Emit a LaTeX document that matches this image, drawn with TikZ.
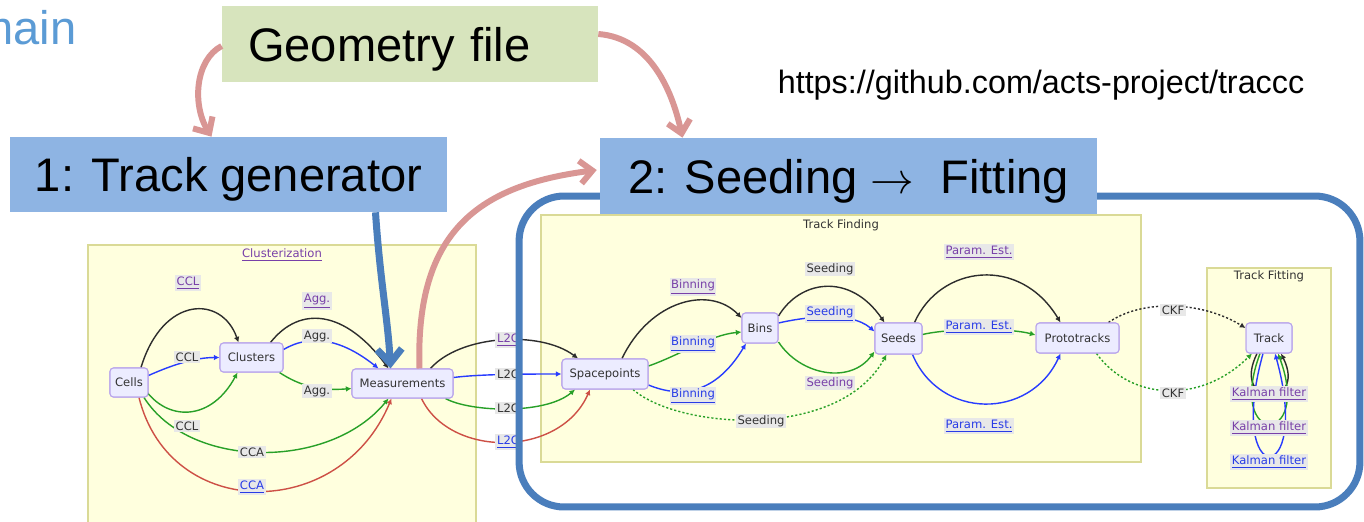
\documentclass[tikz,border=0pt]{standalone}
\usepackage{fontspec}
\setmainfont{DejaVu Sans}
\newfontfamily\bigsans{Liberation Sans}
\usetikzlibrary{arrows.meta,calc}
\definecolor{boxblue}{RGB}{142,180,227}
\definecolor{geogreen}{RGB}{215,228,189}
\definecolor{pinkarr}{RGB}{217,150,148}
\definecolor{frameblue}{RGB}{74,126,188}
\definecolor{clfill}{RGB}{255,255,222}
\definecolor{clborder}{RGB}{218,218,150}
\definecolor{ndfill}{RGB}{236,236,255}
\definecolor{ndborder}{RGB}{185,165,235}
\definecolor{lblbg}{RGB}{232,232,232}
\definecolor{linkpurple}{RGB}{120,64,168}
\definecolor{linkblue}{RGB}{40,60,230}
\definecolor{txtgray}{RGB}{51,51,51}
\definecolor{ek}{RGB}{45,45,45}
\definecolor{eb}{RGB}{40,60,255}
\definecolor{eg}{RGB}{40,160,40}
\definecolor{er}{RGB}{205,80,70}
\definecolor{mainblue}{RGB}{91,155,213}
\newcommand\dfont{\fontsize{6.6}{7.5}\selectfont}
\newcommand\bfont{\bigsans\fontsize{26.8}{30}\selectfont}
\newcommand\ufont{\bigsans\fontsize{18.4}{22}\selectfont}
\begin{document}
\begin{tikzpicture}[x=0.02cm,y=-0.02cm,
  container/.style={draw=clborder,fill=clfill,line width=0.7pt,inner sep=0},
  ctitle/.style={font=\dfont,text=txtgray,inner sep=0},
  nd/.style={draw=ndborder,fill=ndfill,rounded corners=2pt,line width=0.6pt,inner sep=0,font=\dfont,text=txtgray,minimum height=0.58cm},
  lbl/.style={fill=lblbg,inner sep=0.9pt,font=\dfont,text=txtgray},
  lblp/.style={lbl,text=linkpurple},
  lblb/.style={lbl,text=linkblue},
  edgeline/.style={line width=0.8pt,-{Latex[length=3.2pt,width=3.2pt]}},
  dotline/.style={edgeline,dash pattern=on 1.2pt off 1.2pt},
  bigbox/.style={fill=boxblue,inner sep=0,font=\bfont,text=black,text depth=0pt},
  pinkarrow/.style={draw=pinkarr,line width=3.4pt,-{Straight Barb[length=7pt,width=13pt,line width=3.4pt]}},
  bluearrow/.style={draw=frameblue,line width=4pt,-{Straight Barb[length=8pt,width=14pt,line width=4pt]}}
]
\useasboundingbox (0,0) rectangle (1364,521);
\fill[white] (0,0) rectangle (1364,521);

% containers
\node[container,minimum width=7.76cm,minimum height=5.6cm] (clz) at (282,385) {};
\node[ctitle,text=linkpurple] (clzt) at (282,255) {\underline{Clusterization}};
\node[container,minimum width=12cm,minimum height=4.94cm] (tfd) at (841,338.5) {};
\node[ctitle] (tfdt) at (841,225) {Track Finding};
\node[container,minimum width=2.48cm,minimum height=4.4cm] (tft) at (1269,378) {};
\node[ctitle] (tftt) at (1269,276) {Track Fitting};

% diagram nodes (placed first for anchors, redrawn later on top)
\node[nd,minimum width=0.76cm] (cells) at (129,382.5) {Cells};
\node[nd,minimum width=1.26cm] (clusters) at (251.5,357.5) {Clusters};
\node[nd,minimum width=2.02cm] (meas) at (402.5,383.5) {Measurements};
\node[nd,minimum width=1.72cm,minimum height=0.6cm] (space) at (605,374) {Spacepoints};
\node[nd,minimum width=0.72cm,minimum height=0.6cm] (bins) at (760,328) {Bins};
\node[nd,minimum width=0.94cm,minimum height=0.62cm] (seeds) at (898.5,338.5) {Seeds};
\node[nd,minimum width=1.66cm,minimum height=0.6cm] (proto) at (1077.5,338) {Prototracks};
\node[nd,minimum width=0.92cm,minimum height=0.6cm] (track) at (1269,338) {Track};

% edges: Cells -> Clusters
\draw[edgeline,ek] ($(cells.north)+(12,0)$) .. controls (163,295) and (222,295) .. ($(clusters.north)+(-13,0)$);
\draw[edgeline,eb] ($(cells.east)+(0,-7)$) .. controls (172,365) and (195,357.5) .. (clusters.west);
\draw[edgeline,eg] ($(cells.south east)+(-2,-6)$) .. controls (170,422) and (212,420) .. ($(clusters.south)+(-14,0)$);
% Clusters -> Measurements
\draw[edgeline,ek] ($(clusters.north)+(19,0)$) .. controls (300,305) and (345,310) .. ($(meas.north)+(-14,0)$);
\draw[edgeline,eb] ($(clusters.east)+(0,-8)$) .. controls (300,340) and (330,330) .. ($(meas.north)+(-24,0)$);
\draw[edgeline,eg] ($(clusters.south)+(28,0)$) .. controls (300,386) and (320,391) .. ($(meas.west)+(0,5)$);
% Cells -> Measurements
\draw[edgeline,eg] ($(cells.south)+(15,0)$) .. controls (190,470) and (330,470) .. ($(meas.south)+(-14,0)$);
\draw[edgeline,er] ($(cells.south)+(10,0)$) .. controls (170,522) and (340,522) .. ($(meas.south)+(-11,0)$);
% Measurements -> Spacepoints
\draw[edgeline,ek] ($(meas.north)+(28,0)$) .. controls (460,335) and (540,330) .. ($(space.north)+(-27,0)$);
\draw[edgeline,eb] ($(meas.east)+(0,-6)$) .. controls (480,374) and (530,374) .. (space.west);
\draw[edgeline,eg] ($(meas.south)+(43,0)$) .. controls (470,412) and (545,415) .. ($(space.south)+(-30,0)$);
\draw[edgeline,er] ($(meas.south)+(19,0)$) .. controls (450,458) and (560,458) .. ($(space.south)+(-15,0)$);
% Spacepoints -> Bins
\draw[edgeline,ek] ($(space.north)+(17,0)$) .. controls (650,300) and (710,285) .. ($(bins.west)+(0,-10)$);
\draw[edgeline,eg] ($(space.east)+(0,-8)$) .. controls (680,355) and (710,335) .. ($(bins.west)+(0,4)$);
\draw[edgeline,eb] ($(space.east)+(0,11)$) .. controls (680,398) and (715,395) .. ($(bins.south)+(-14,0)$);
% Bins -> Seeds
\draw[edgeline,ek] ($(bins.east)+(0,-12)$) .. controls (800,280) and (850,272) .. ($(seeds.north)+(-14,0)$);
\draw[edgeline,eb] ($(bins.east)+(0,-5)$) .. controls (800,318) and (850,310) .. ($(seeds.west)+(0,-7)$);
\draw[edgeline,eg] ($(bins.east)+(0,14)$) .. controls (800,375) and (850,385) .. ($(seeds.west)+(0,13)$);
% Spacepoints -> Seeds
\draw[dotline,eg] ($(space.south)+(28,0)$) .. controls (680,430) and (840,440) .. ($(seeds.south)+(-12,0)$);
% Seeds -> Prototracks
\draw[edgeline,ek] ($(seeds.north)+(16,0)$) .. controls (940,265) and (1020,255) .. ($(proto.north)+(-17,0)$);
\draw[edgeline,eg] ($(seeds.east)+(0,-4)$) .. controls (950,328) and (1010,328) .. ($(proto.west)+(0,-3)$);
\draw[edgeline,eb] ($(seeds.south)+(14,0)$) .. controls (940,420) and (1030,420) .. ($(proto.south)+(-17,0)$);
% Prototracks -> Track
\draw[dotline,ek] ($(proto.north)+(31,0)$) .. controls (1140,300) and (1200,300) .. ($(track.west)+(0,-10)$);
\draw[dotline,eg] ($(proto.south)+(19,0)$) .. controls (1130,400) and (1200,405) .. ($(track.south)+(-17,0)$);
% Track loops
\draw[edgeline,ek] ($(track.south)+(-12,0)$) .. controls (1230,408) and (1308,408) .. ($(track.south)+(12,0)$);
\draw[edgeline,eg] ($(track.south)+(-9,0)$) .. controls (1225,447) and (1313,447) .. ($(track.south)+(9,0)$);
\draw[edgeline,eb] ($(track.south)+(-6,0)$) .. controls (1225,490) and (1313,490) .. ($(track.south)+(6,0)$);

% labels
\node[lblp] (la1) at (188,283) {\underline{CCL}};
\node[lbl]  (la2) at (187,357) {CCL};
\node[lbl]  (la3) at (187,426) {CCL};
\node[lblp] (lb1) at (317,301) {\underline{Agg.}};
\node[lbl]  (lb2) at (317,336) {Agg.};
\node[lbl]  (lb3) at (317,391) {Agg.};
\node[lbl]  (lc1) at (252,452) {CCA};
\node[lblb] (lc2) at (252,487) {\underline{CCA}};
\node[lblp] (ld1) at (508,340) {\underline{L2C}};
\node[lbl]  (ld2) at (508,374) {L2C};
\node[lbl]  (ld3) at (508,408) {L2C};
\node[lblb] (ld4) at (508,442) {\underline{L2C}};
\node[lblp] (le1) at (693,287) {\underline{Binning}};
\node[lblb] (le2) at (693,344) {\underline{Binning}};
\node[lblb] (le3) at (693,396) {\underline{Binning}};
\node[lbl]  (lf1) at (830,269) {Seeding};
\node[lblb] (lf2) at (830,314) {\underline{Seeding}};
\node[lblp] (lf3) at (830,383) {Seeding};
\node[lbl]  (lf4) at (761,421) {Seeding};
\node[lblp] (lg1) at (979,252) {\underline{Param. Est.}};
\node[lblb] (lg2) at (979,327) {\underline{Param. Est.}};
\node[lblb] (lg3) at (979,426) {\underline{Param. Est.}};
\node[lbl]  (lh1) at (1173,310) {CKF};
\node[lbl]  (lh2) at (1173,393) {CKF};
\node[lblp] (lk1) at (1269,394) {\underline{Kalman filter}};
\node[lblp] (lk2) at (1269,428) {\underline{Kalman filter}};
\node[lblb] (lk3) at (1269,462) {\underline{Kalman filter}};

% redraw nodes on top
\node[nd,minimum width=0.76cm] at (cells) {Cells};
\node[nd,minimum width=1.26cm] at (clusters) {Clusters};
\node[nd,minimum width=2.02cm] at (meas) {Measurements};
\node[nd,minimum width=1.72cm,minimum height=0.6cm] at (space) {Spacepoints};
\node[nd,minimum width=0.72cm,minimum height=0.6cm] at (bins) {Bins};
\node[nd,minimum width=0.94cm,minimum height=0.62cm] at (seeds) {Seeds};
\node[nd,minimum width=1.66cm,minimum height=0.6cm] at (proto) {Prototracks};
\node[nd,minimum width=0.92cm,minimum height=0.6cm] at (track) {Track};

% big frame
\node[draw=frameblue,line width=4pt,rounded corners=0.9cm,minimum width=16.82cm,minimum height=6.22cm,inner sep=0] (frame) at (939.5,351.5) {};

% big boxes
\node[bigbox,minimum width=8.74cm,minimum height=1.5cm] (tg) at (228.5,174.5) {1: Track generator};
\node[bigbox,minimum width=9.94cm,minimum height=1.52cm] (sf) at (848.5,176) {2: Seeding $\rightarrow$\ \ Fitting};
\node[bigbox,fill=geogreen,text width=6.48cm,align=left,inner xsep=0.52cm,minimum height=1.52cm] (geo) at (410,44) {Geometry file};
\node[font=\ufont,inner sep=0] (url) at (1041,85) {https://github.com/acts-project/traccc};
\node[font=\bfont,text=mainblue,anchor=base east,inner sep=0] (mainlbl) at (77,44) {main};

% thick arrows
\draw[pinkarrow] ($(geo.west)+(0,2)$) .. controls (195,60) and (192,105) .. ($(tg.north)+(-17,0)$);
\draw[pinkarrow] ($(geo.east)+(0,-10)$) .. controls (650,38) and (672,90) .. ($(sf.north)+(-166,0)$);
\draw[pinkarrow] ($(meas.north)+(17,0)$) .. controls (415,230) and (480,185) .. ($(sf.west)+(-3,-6)$);
\draw[bluearrow] ($(tg.south)+(147,0)$) .. controls (380,280) and (388,320) .. ($(meas.north)+(-12,0)$);
\end{tikzpicture}
\end{document}
